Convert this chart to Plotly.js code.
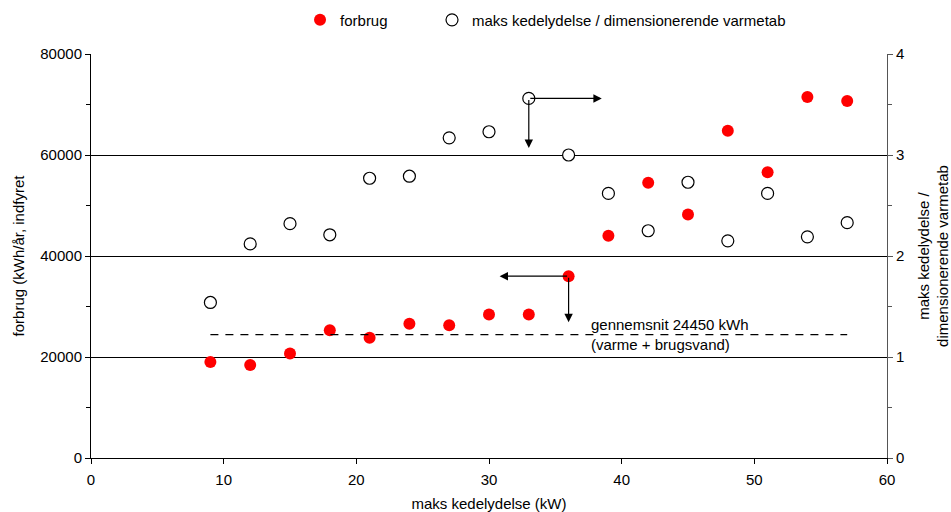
<!DOCTYPE html>
<html>
<head>
<meta charset="utf-8">
<script src="https://cdn.plot.ly/plotly-3.0.1.min.js"></script>
<style>html,body{margin:0;padding:0;background:#fff}#chart{width:951px;height:512px}</style>
</head>
<body>
<div id="chart"></div>
<script>
const kw = [9, 12, 15, 18, 21, 24, 27, 30, 33, 36, 39, 42, 45, 48, 51, 54, 57];
const forbrug = [19000, 18400, 20700, 25300, 23800, 26600, 26300, 28400, 28400, 36000, 44000, 54500, 48200, 64800, 56600, 71500, 70700];
const ratio = [1.54, 2.12, 2.32, 2.21, 2.77, 2.79, 3.17, 3.23, 3.56, 3.00, 2.62, 2.25, 2.73, 2.15, 2.62, 2.19, 2.33];
const avgValue = 24450;
const avgRange = [9, 57];

const font = "Liberation Sans, Arial, sans-serif";

const traces = [
  {
    x: kw, y: forbrug, type: 'scatter', mode: 'markers', name: 'forbrug',
    marker: {color: '#ff0000', size: 12, line: {width: 0}}, yaxis: 'y', legend: 'legend'
  },
  {
    x: kw, y: ratio, type: 'scatter', mode: 'markers', name: 'maks kedelydelse / dimensionerende varmetab',
    marker: {color: '#ffffff', size: 12, line: {width: 1.2, color: '#000000'}}, yaxis: 'y2', legend: 'legend2'
  },
  {
    x: avgRange, y: [avgValue, avgValue], type: 'scatter', mode: 'lines', showlegend: false,
    line: {color: '#000000', width: 1.2, dash: '8px,7px'}, yaxis: 'y', hoverinfo: 'skip'
  }
];

const arrowBase = {showarrow: true, text: '', arrowhead: 2, arrowsize: 1.4, arrowwidth: 1.2, arrowcolor: '#000', standoff: 0, startstandoff: 0};

const legendBase = {orientation: 'h', y: 1.084, yanchor: 'middle', xanchor: 'left', font: {size: 15}, itemwidth: 30, bgcolor: 'rgba(0,0,0,0)'};

const layout = {
  width: 951, height: 512,
  margin: {l: 91, r: 64, t: 54, b: 54, autoexpand: false},
  paper_bgcolor: '#fff', plot_bgcolor: '#fff',
  font: {family: font, size: 15, color: '#000'},
  showlegend: true,
  legend: Object.assign({}, legendBase, {x: 0.2626}),
  legend2: Object.assign({}, legendBase, {x: 0.4284}),
  xaxis: {
    range: [0, 60], dtick: 10, showgrid: false, zeroline: false,
    showline: true, linecolor: '#000', linewidth: 1,
    ticks: 'outside', ticklen: 5, tickcolor: '#000', ticklabelstandoff: 3,
    title: {text: 'maks kedelydelse (kW)', font: {size: 15}, standoff: 13}
  },
  yaxis: {
    range: [0, 80000], dtick: 20000, showgrid: true, gridcolor: '#000', gridwidth: 1, zeroline: false,
    showline: true, linecolor: '#000', linewidth: 1,
    ticks: 'outside', ticklen: 5, tickcolor: '#000', tickformat: 'd',
    minor: {dtick: 10000, ticks: 'outside', ticklen: 4, tickcolor: '#000', showgrid: false},
    title: {text: 'forbrug (kWh/år, indfyret', font: {size: 15}, standoff: 12}
  },
  yaxis2: {
    range: [0, 4], dtick: 1, overlaying: 'y', side: 'right', showgrid: false, zeroline: false,
    showline: true, linecolor: '#555', linewidth: 1,
    ticks: 'outside', ticklen: 5, tickcolor: '#555',
    minor: {dtick: 0.5, ticks: 'outside', ticklen: 4, tickcolor: '#555', showgrid: false},
    title: {text: 'maks kedelydelse /<br>dimensionerende varmetab', font: {size: 15}, standoff: 15}
  },
  annotations: [
    Object.assign({}, arrowBase, {x: 38.5, y: ratio[8], xref: 'x', yref: 'y2', ax: kw[8], ay: ratio[8], axref: 'x', ayref: 'y2'}),
    Object.assign({}, arrowBase, {x: kw[8], y: 3.07, xref: 'x', yref: 'y2', ax: kw[8], ay: ratio[8], axref: 'x', ayref: 'y2'}),
    Object.assign({}, arrowBase, {x: 30.8, y: forbrug[9], xref: 'x', yref: 'y', ax: kw[9], ay: forbrug[9], axref: 'x', ayref: 'y'}),
    Object.assign({}, arrowBase, {x: kw[9], y: 26900, xref: 'x', yref: 'y', ax: kw[9], ay: forbrug[9], axref: 'x', ayref: 'y'}),
    {x: 37.5, y: avgValue, xref: 'x', yref: 'y', text: 'gennemsnit 24450 kWh<br>(varme + brugsvand)', showarrow: false,
     xanchor: 'left', yanchor: 'middle', align: 'left', font: {size: 15}}
  ]
};

Plotly.newPlot('chart', traces, layout, {displayModeBar: false, staticPlot: true});
</script>
</body>
</html>
